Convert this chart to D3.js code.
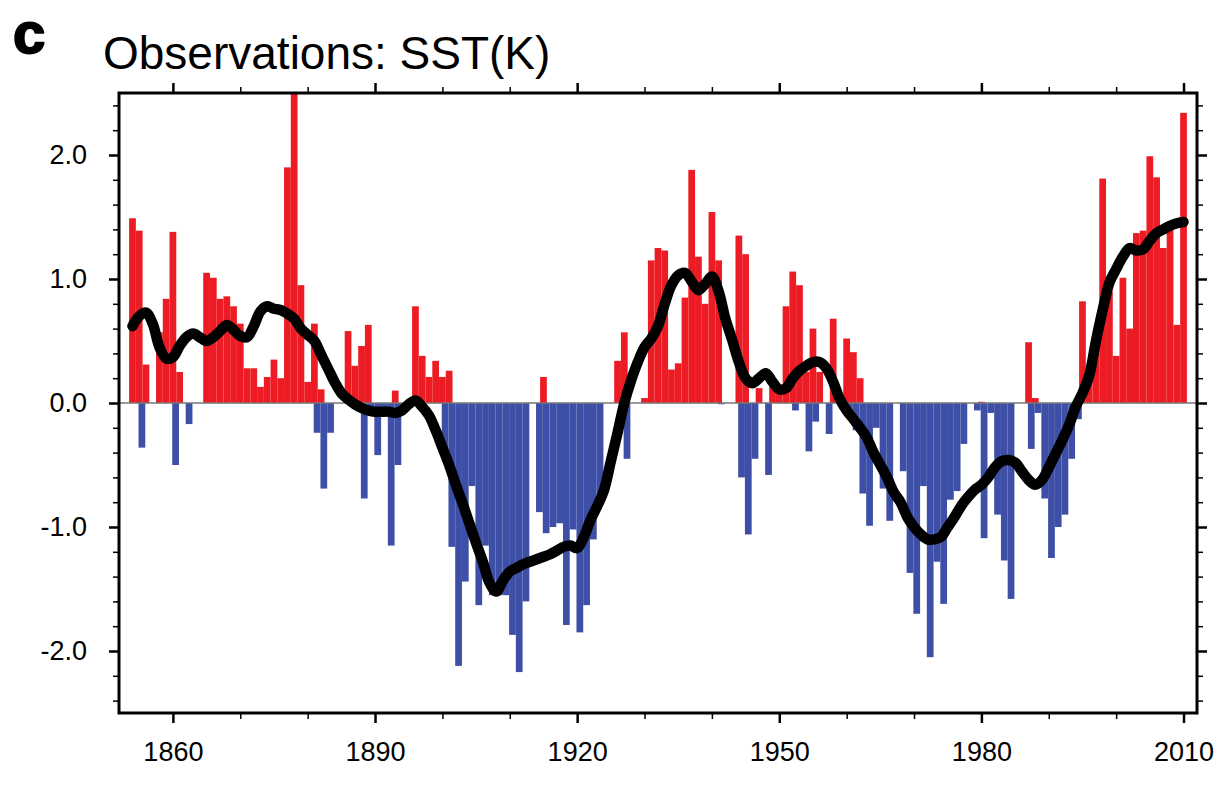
<!DOCTYPE html>
<html>
<head>
<meta charset="utf-8">
<script src="https://cdn.jsdelivr.net/npm/d3@7"></script>
<style>
  body { margin: 0; background: #fff; }
  svg { display: block; }
  text { font-family: "Liberation Sans", Arial, Helvetica, sans-serif; fill: #000; }
</style>
</head>
<body>
<svg id="chart" width="1227" height="792"></svg>
<script>
// Annual SST anomaly (K), 1854-2010
const firstYear = 1854;

// positive (warm) annual bars
const warm = [
  1.49, 1.39, 0.31, 0, 0.57, 0.84,                               // 1854-1859
  1.38, 0.25, 0, 0, 0, 1.05, 1.01, 0.84, 0.86, 0.78,             // 1860s
  0.64, 0.28, 0.28, 0.13, 0.21, 0.35, 0.20, 1.90, 2.60, 0.95,    // 1870s
  0.17, 0.64, 0.11, 0, 0, 0, 0.58, 0.30, 0.46, 0.63,             // 1880s
  0, 0, 0, 0.10, 0, 0, 0.78, 0.38, 0.21, 0.34,                   // 1890s
  0.21, 0.26, 0, 0, 0, 0, 0, 0, 0, 0,                            // 1900s
  0, 0, 0, 0, 0, 0.21, 0, 0, 0, 0,                               // 1910s
  0, 0, 0, 0, 0, 0, 0.34, 0.57, 0, 0,                            // 1920s
  0.04, 1.15, 1.25, 1.23, 0.27, 0.32, 0.85, 1.88, 1.18, 0.80,    // 1930s
  1.54, 1.15, 0, 0, 1.35, 1.20, 0, 0.12, 0, 0.16,                // 1940s
  0.08, 0.78, 1.06, 0.95, 0.25, 0.60, 0.25, 0, 0.68, 0,          // 1950s
  0.52, 0.41, 0.20, 0, 0, 0, 0, 0, 0, 0,                         // 1960s
  0, 0, 0, 0, 0, 0, 0, 0, 0, 0,                                  // 1970s
  0.01, 0, 0, 0, 0, 0, 0, 0.49, 0.04, 0,                         // 1980s
  0, 0, 0, 0, 0, 0.82, 0.20, 0.45, 1.81, 0.90,                   // 1990s
  0.38, 1.01, 0.60, 1.37, 1.39, 1.99, 1.82, 1.25, 1.40, 0.63,    // 2000s
  2.34                                                           // 2010
];

// negative (cool) annual bars
const cool = [
  0, -0.36, 0, 0, 0, 0,
  -0.50, 0, -0.17, 0, 0, 0, 0, 0, 0, 0,
  0, 0, 0, 0, 0, 0, 0, 0, 0, 0,
  0, -0.24, -0.69, -0.24, 0, 0, 0, 0, -0.77, -0.04,
  -0.42, -0.04, -1.15, -0.50, -0.03, -0.02, 0, 0, 0, 0,
  -0.47, -1.16, -2.12, -1.44, -0.67, -1.63, -1.15, -1.55, -1.55, -1.55,
  -1.87, -2.17, -1.60, 0, -0.88, -1.05, -1.00, -0.97, -1.79, -1.02,
  -1.85, -1.63, -1.10, -0.73, 0, 0, 0, -0.45, 0, 0,
  0, 0, 0, 0, 0, 0, 0, 0, 0, 0,
  0, -0.01, 0, 0, -0.60, -1.06, -0.45, 0, -0.58, 0,
  0, 0, -0.06, 0, -0.39, -0.15, 0, -0.25, 0, -0.05,
  -0.10, -0.22, -0.73, -0.99, -0.20, -0.69, -0.95, 0, -0.55, -1.37,
  -1.70, -0.67, -2.05, -1.28, -1.62, -0.78, -0.71, -0.33, 0, -0.06,
  -1.09, -0.08, -0.90, -1.27, -1.58, 0, 0, -0.37, -0.08, -0.77,
  -1.25, -1.00, -0.90, -0.45, -0.13, 0, 0, 0, 0, 0,
  0, 0, 0, 0, 0, 0, 0, 0, 0, 0,
  0
];

// low-pass filtered series
const smooth = [
  0.62, 0.70, 0.73, 0.64, 0.45, 0.36,
  0.37, 0.46, 0.53, 0.56, 0.53, 0.50, 0.53, 0.58, 0.63, 0.59,
  0.54, 0.53, 0.62, 0.74, 0.78, 0.76, 0.75, 0.72, 0.68, 0.60,
  0.55, 0.50, 0.39, 0.28, 0.17, 0.08, 0.03, -0.01, -0.04, -0.06,
  -0.07, -0.07, -0.07, -0.08, -0.06, -0.01, 0.02, -0.03, -0.10, -0.22,
  -0.36, -0.50, -0.66, -0.81, -0.97, -1.13, -1.28, -1.45, -1.52, -1.43,
  -1.36, -1.33, -1.30, -1.28, -1.26, -1.24, -1.22, -1.19, -1.16, -1.15,
  -1.17, -1.08, -0.94, -0.83, -0.70, -0.47, -0.24, 0.00, 0.18, 0.33,
  0.45, 0.52, 0.62, 0.80, 0.95, 1.03, 1.05, 0.98, 0.91, 0.96,
  1.02, 0.90, 0.68, 0.51, 0.33, 0.20, 0.16, 0.20, 0.24, 0.17,
  0.11, 0.12, 0.20, 0.26, 0.30, 0.33, 0.33, 0.28, 0.17, 0.03,
  -0.06, -0.13, -0.20, -0.28, -0.40, -0.50, -0.60, -0.72, -0.80, -0.92,
  -1.00, -1.06, -1.10, -1.10, -1.08, -1.00, -0.92, -0.83, -0.76, -0.70,
  -0.66, -0.60, -0.52, -0.47, -0.46, -0.48, -0.55, -0.62, -0.66, -0.62,
  -0.52, -0.41, -0.30, -0.18, -0.03, 0.08, 0.22, 0.50, 0.75, 0.97,
  1.08, 1.18, 1.25, 1.23, 1.24, 1.31, 1.37, 1.40, 1.43, 1.45,
  1.46
];

const xMajorTicks = [1860, 1890, 1920, 1950, 1980, 2010];
const xMinorTicks = d3.range(1860, 2011, 10);
const yMajorTicks = [-2, -1, 0, 1, 2];
const yTickLabels = ["-2.0", "-1.0", "0.0", "1.0", "2.0"];
const yMinorTicks = d3.range(-24, 25, 2).map(v => v / 10);

const panelLetter = "c";
const title = "Observations: SST(K)";

const years = warm.map((_, i) => firstYear + i);

const svg = d3.select("#chart");
const m = { left: 119, right: 1197, top: 93, bottom: 713 };

const x = d3.scaleLinear().domain([1852, 2012]).range([m.left, m.right]);
const y = d3.scaleLinear().domain([-2.5, 2.5]).range([m.bottom, m.top]);

const red = "#ed1c24";
const blue = "#3d4fa6";

svg.append("defs").append("clipPath").attr("id", "plot")
  .append("rect").attr("x", m.left).attr("y", m.top)
  .attr("width", m.right - m.left).attr("height", m.bottom - m.top);

const plot = svg.append("g").attr("clip-path", "url(#plot)");

// cool bars are centred slightly after the year mark
const coolShift = 0.4;

plot.append("g").selectAll("rect")
  .data(years.map((yr, i) => ({ yr, v: warm[i] })).filter(d => d.v > 0))
  .join("rect")
  .attr("x", d => x(d.yr - 0.5))
  .attr("width", d => x(d.yr + 0.5) - x(d.yr - 0.5))
  .attr("y", d => y(d.v))
  .attr("height", d => y(0) - y(d.v))
  .attr("fill", red);

plot.append("g").selectAll("rect")
  .data(years.map((yr, i) => ({ yr, v: cool[i] })).filter(d => d.v < 0))
  .join("rect")
  .attr("x", d => x(d.yr - 0.5 + coolShift))
  .attr("width", d => x(d.yr + 0.5) - x(d.yr - 0.5))
  .attr("y", y(0))
  .attr("height", d => y(d.v) - y(0))
  .attr("fill", blue);

// reference line at zero
plot.append("line")
  .attr("x1", m.left).attr("x2", m.right)
  .attr("y1", y(0)).attr("y2", y(0))
  .attr("stroke", "#777").attr("stroke-width", 1.5);

// smoothed curve
const line = d3.line()
  .x((d, i) => x(years[i]))
  .y(d => y(d))
  .curve(d3.curveCatmullRom.alpha(0.5));

plot.append("path")
  .attr("d", line(smooth))
  .attr("fill", "none")
  .attr("stroke", "#000")
  .attr("stroke-width", 10.5)
  .attr("stroke-linejoin", "round")
  .attr("stroke-linecap", "round");

// frame
svg.append("rect")
  .attr("x", m.left).attr("y", m.top)
  .attr("width", m.right - m.left).attr("height", m.bottom - m.top)
  .attr("fill", "none").attr("stroke", "#000").attr("stroke-width", 3);

// axes: ticks point outward on all four sides
const axisStyle = (g, major) => {
  g.select(".domain").remove();
  g.selectAll(".tick line").attr("stroke", "#000").attr("stroke-width", major ? 2.5 : 1.5);
};

const fmtNone = () => "";
const xMinor = xMinorTicks.filter(t => !xMajorTicks.includes(t));

svg.append("g").attr("transform", `translate(0,${m.bottom})`)
  .call(d3.axisBottom(x).tickValues(xMinor).tickSize(6).tickFormat(fmtNone))
  .call(g => axisStyle(g, false));
svg.append("g").attr("transform", `translate(0,${m.top})`)
  .call(d3.axisTop(x).tickValues(xMinor).tickSize(6).tickFormat(fmtNone))
  .call(g => axisStyle(g, false));

const xb = svg.append("g").attr("transform", `translate(0,${m.bottom})`)
  .call(d3.axisBottom(x).tickValues(xMajorTicks).tickSize(10).tickPadding(38).tickFormat(d3.format("d")))
  .call(g => axisStyle(g, true));
xb.selectAll("text").attr("font-size", 27).attr("dy", 0).attr("fill", "#000");

svg.append("g").attr("transform", `translate(0,${m.top})`)
  .call(d3.axisTop(x).tickValues(xMajorTicks).tickSize(10).tickFormat(fmtNone))
  .call(g => axisStyle(g, true));

const yMinor = yMinorTicks.filter(t => !yMajorTicks.some(v => Math.abs(v - t) < 1e-9));
svg.append("g").attr("transform", `translate(${m.left},0)`)
  .call(d3.axisLeft(y).tickValues(yMinor).tickSize(6).tickFormat(fmtNone))
  .call(g => axisStyle(g, false));
svg.append("g").attr("transform", `translate(${m.right},0)`)
  .call(d3.axisRight(y).tickValues(yMinor).tickSize(6).tickFormat(fmtNone))
  .call(g => axisStyle(g, false));

const yl = svg.append("g").attr("transform", `translate(${m.left},0)`)
  .call(d3.axisLeft(y).tickValues(yMajorTicks).tickSize(10).tickPadding(22)
    .tickFormat(d => yTickLabels[yMajorTicks.indexOf(d)]))
  .call(g => axisStyle(g, true));
yl.selectAll("text").attr("font-size", 27).attr("fill", "#000");

svg.append("g").attr("transform", `translate(${m.right},0)`)
  .call(d3.axisRight(y).tickValues(yMajorTicks).tickSize(10).tickFormat(fmtNone))
  .call(g => axisStyle(g, true));

// panel letter and title
svg.append("text").attr("x", 13).attr("y", 53)
  .attr("font-size", 58).attr("font-weight", "bold")
  .attr("stroke", "#000").attr("stroke-width", 2).attr("stroke-linejoin", "round")
  .text(panelLetter);
svg.append("text").attr("x", 103).attr("y", 69)
  .attr("font-size", 46)
  .text(title);
</script>
</body>
</html>
